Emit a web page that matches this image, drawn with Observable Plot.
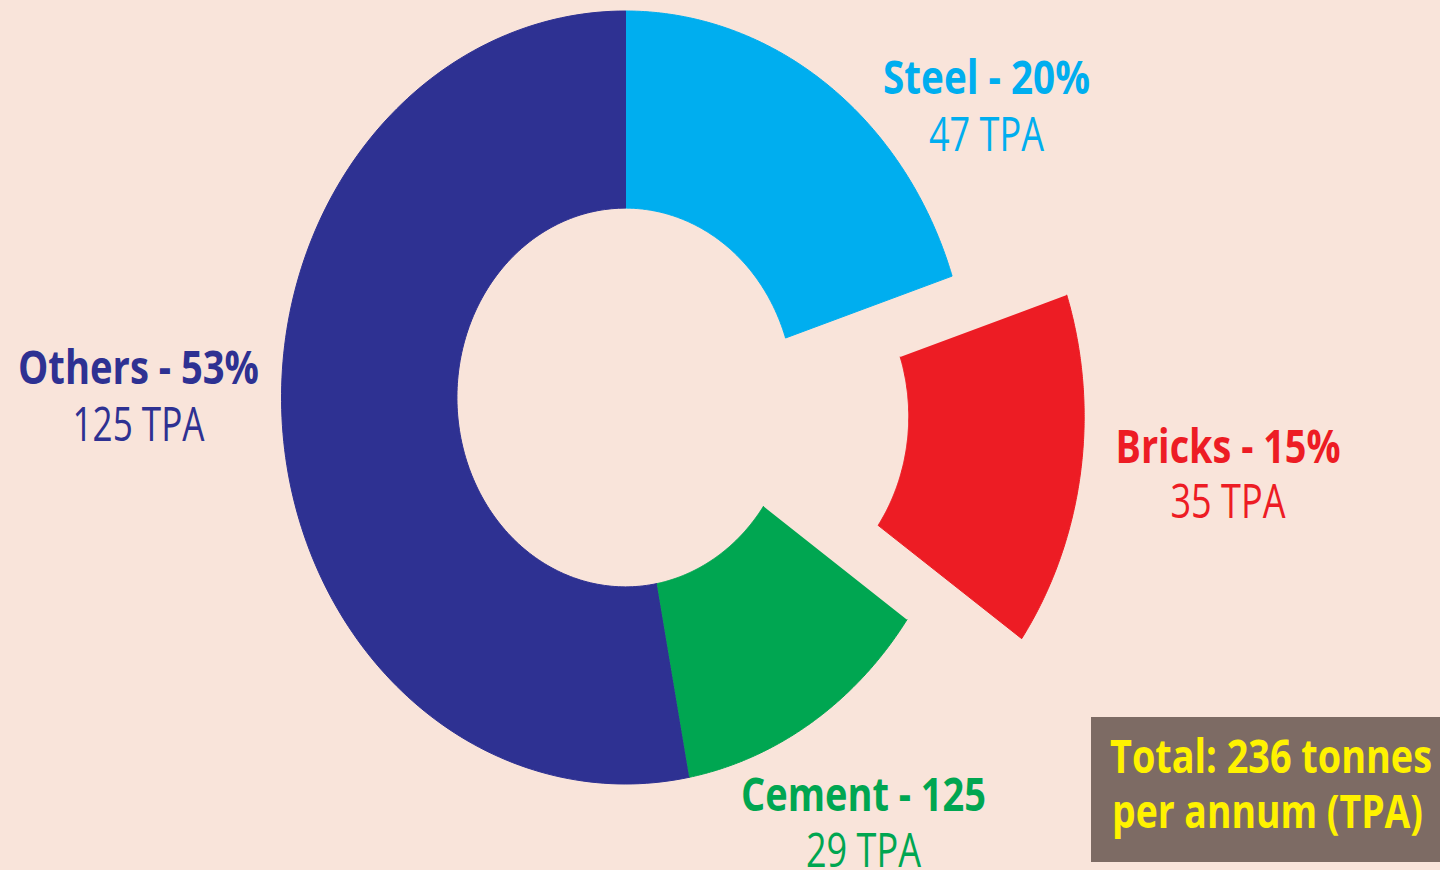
<!DOCTYPE html>
<html><head><meta charset="utf-8">
<script src="https://cdn.jsdelivr.net/npm/d3@7"></script>
<script src="https://cdn.jsdelivr.net/npm/@observablehq/plot@0.6"></script>
<style>
html,body{margin:0;padding:0;background:#f9e4da;width:1440px;height:870px;overflow:hidden}
#wrap{position:relative;width:1440px;height:870px}
#box{position:absolute;left:1091px;top:717px;width:349px;height:145px;background:#7d6b64}
</style></head><body><div id="wrap"></div>
<script>
// ---- data ----
const categories = ["Steel", "Bricks", "Cement", "Others"];
const tpa = [47, 35, 29, 125];
const shareLabels = ["20%", "15%", "125", "53%"];
const colors = ["#00aeef", "#ed1c24", "#00a651", "#2e3192"];
const totalLines = ["Total: 236 tonnes", "per annum (TPA)"];

// ---- layout (not data) ----
const W = 1440, H = 870, CX = 625, CY = 397, RX = 344, RY = 386.5, INNER = 0.49;
const explode = [0, 0.337, 0, 0];
const labelLayout = [
  {cx: 986, b1: 93, b2: 150, w1: 207, w2: 115},
  {cx: 1227.5, b1: 462, b2: 517, w1: 225, w2: 115},
  {cx: 863, b1: 810, b2: 866, w1: 245, w2: 115},
  {cx: 138, b1: 383, b2: 440, w1: 241, w2: 132}
];
const FONT = "'Open Sans', 'DejaVu Sans', sans-serif";
const FS = 47;

const ux = px => (px - CX) / RX;
const uy = py => (CY - py) / RY;

const total = d3.sum(tpa);
let acc = 0;
const slices = categories.map((c, i) => {
  const a0 = acc / total * 2 * Math.PI; acc += tpa[i];
  const a1 = acc / total * 2 * Math.PI;
  return {c, i, a0, a1};
});
const ringPts = [];
slices.forEach(s => {
  const am = (s.a0 + s.a1) / 2, e = explode[s.i];
  const ox = e * Math.sin(am), oy = e * Math.cos(am);
  const n = 160;
  for (let k = 0; k <= n; k++) {
    const a = s.a0 + (s.a1 - s.a0) * k / n;
    ringPts.push({name: s.c, x: ox + Math.sin(a), y: oy + Math.cos(a)});
  }
  for (let k = n; k >= 0; k--) {
    const a = s.a0 + (s.a1 - s.a0) * k / n;
    ringPts.push({name: s.c, x: ox + INNER * Math.sin(a), y: oy + INNER * Math.cos(a)});
  }
});

const labels = categories.map((c, i) => ({
  name: c, head: `${c} - ${shareLabels[i]}`, sub: `${tpa[i]} TPA`, ...labelLayout[i]
}));
const fitWidths = new Map();
labels.forEach(d => { fitWidths.set(d.head, d.w1); fitWidths.set(d.sub, d.w2); });

const marks = [];
categories.forEach((c, i) => {
  marks.push(Plot.line(ringPts.filter(p => p.name === c), {
    x: "x", y: "y", fill: colors[i], stroke: colors[i], strokeWidth: 1
  }));
});
labels.forEach((d, i) => {
  marks.push(Plot.text([d], {x: d => ux(d.cx), y: d => uy(d.b1), text: "head",
    fill: colors[i], fontSize: FS, fontWeight: "bold", fontFamily: FONT,
    textAnchor: "middle", lineAnchor: "bottom"}));
  marks.push(Plot.text([d], {x: d => ux(d.cx), y: d => uy(d.b2), text: "sub",
    fill: colors[i], fontSize: FS, fontWeight: "normal", fontFamily: FONT,
    textAnchor: "middle", lineAnchor: "bottom"}));
});

const chart = Plot.plot({
  width: W, height: H,
  marginTop: 0, marginRight: 0, marginBottom: 0, marginLeft: 0,
  x: {domain: [ux(0), ux(W)], axis: null},
  y: {domain: [uy(H), uy(0)], axis: null},
  style: {background: "#f9e4da", overflow: "visible"},
  marks
});
d3.select(chart).selectAll("text").each(function () {
  const t = this.textContent;
  if (fitWidths.has(t)) {
    this.setAttribute("textLength", fitWidths.get(t));
    this.setAttribute("lengthAdjust", "spacingAndGlyphs");
  }
});
const wrap = document.getElementById("wrap");
wrap.appendChild(chart);
chart.style.position = "absolute"; chart.style.left = "0"; chart.style.top = "0";

// total box
const box = d3.select(wrap).append("div").attr("id", "box");
const bs = box.append("svg").attr("width", 349).attr("height", 145);
const boxLayout = [{x: 19, y: 56, w: 322}, {x: 21, y: 111, w: 311}];
totalLines.forEach((t, i) => {
  bs.append("text").attr("x", boxLayout[i].x).attr("y", boxLayout[i].y)
    .attr("fill", "#fff200").attr("font-family", FONT).attr("font-weight", "bold")
    .attr("font-size", FS).attr("textLength", boxLayout[i].w)
    .attr("lengthAdjust", "spacingAndGlyphs").text(t);
});
</script></body></html>
